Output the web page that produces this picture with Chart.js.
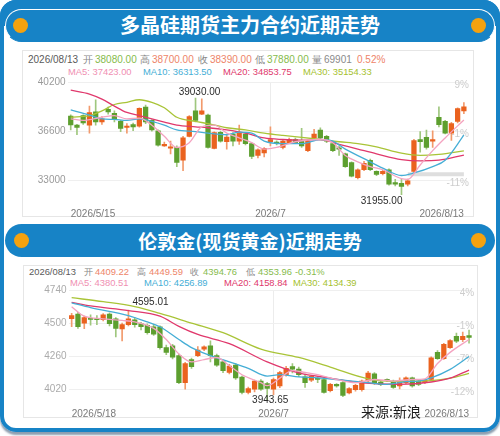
<!DOCTYPE html>
<html>
<head>
<meta charset="utf-8">
<script src="https://cdn.jsdelivr.net/npm/chart.js@4.4.1/dist/chart.umd.min.js"></script>
<style>
  html, body { margin: 0; padding: 0; background: #fff; }
  body { width: 500px; height: 436px; position: relative; overflow: hidden; font-family: "Liberation Sans", Arial, sans-serif; }
  .frame { position: absolute; left: 0; top: 0; width: 500px; height: 432px; box-sizing: border-box;
           border: 4px solid #1783c6; border-radius: 16px; box-shadow: 0 3px 2px rgba(0, 40, 80, 0.45); }
  .strip { position: absolute; left: 0; top: 0; width: 500px; height: 26px; background: #1783c6; border-radius: 16px 16px 0 0; }
  .pill { position: absolute; left: 5px; width: 490px; height: 33px; box-sizing: border-box; background: #1783c6;
          border-radius: 17px; color: #fff; text-align: center; font-family: "Noto Sans CJK SC", sans-serif; font-weight: bold; }
  #pill1 { top: 9px; border: 1.5px solid #fff; border-bottom-color: #1783c6; line-height: 30px; font-size: 20px; }
  #pill2 { top: 224px; line-height: 33px; font-size: 19px; }
  .dot { position: absolute; width: 15px; height: 15px; border-radius: 50%; background: #f5a20f; }
  .panel { position: absolute; border: 1px solid #e6e6e6; box-sizing: border-box; }
  .t { position: absolute; font-size: 10px; line-height: 12px; white-space: nowrap; }
  .s { font-size: 9.4px; }
  .g { color: #8a8a8a; } .d { color: #5a5a5a; } .up { color: #ee8468; } .dn { color: #86bb4c; }
  .m5 { color: #f08fb2; } .m10 { color: #45aed6; } .m20 { color: #e0386c; } .m30 { color: #a5bf2e; }
  .box { position: absolute; left: 0; width: 500px; }
  #src { position: absolute; left: 361px; top: 401px; font-family: "Noto Sans CJK SC", sans-serif; font-size: 14px; color: #1c1c1c; z-index: 5; }
</style>
</head>
<body>
<div class="frame"></div>
<div class="strip"></div>
<div class="pill" id="pill1">多晶硅期货主力合约近期走势</div>
<div class="dot" style="left:13px;top:18px"></div>
<div class="dot" style="left:471px;top:18px"></div>
<div class="pill" id="pill2">伦敦金(现货黄金)近期走势</div>
<div class="dot" style="left:14px;top:233px"></div>
<div class="dot" style="left:471px;top:233px"></div>

<div class="panel" style="left:22px;top:50px;width:452px;height:167px"></div>
<div class="panel" style="left:23px;top:265px;width:455px;height:153px"></div>

<span class="t d" style="left:28px;top:54px">2026/08/13</span>
<span class="t g" style="left:83px;top:54px">开</span>
<span class="t dn" style="left:95px;top:54px">38080.00</span>
<span class="t g" style="left:140px;top:54px">高</span>
<span class="t up" style="left:152px;top:54px">38700.00</span>
<span class="t g" style="left:198px;top:54px">收</span>
<span class="t up" style="left:210px;top:54px">38390.00</span>
<span class="t g" style="left:255px;top:54px">低</span>
<span class="t dn" style="left:267px;top:54px">37880.00</span>
<span class="t g" style="left:312px;top:54px">量</span>
<span class="t g" style="left:324px;top:54px">69901</span>
<span class="t up" style="left:357px;top:54px">0.52%</span>
<span class="t m5 s" style="left:68px;top:66px">MA5: 37423.00</span>
<span class="t m10 s" style="left:143px;top:66px">MA10: 36313.50</span>
<span class="t m20 s" style="left:223px;top:66px">MA20: 34853.75</span>
<span class="t m30 s" style="left:303px;top:66px">MA30: 35154.33</span>

<span class="t d s" style="left:29px;top:266px">2026/08/13</span>
<span class="t g s" style="left:84px;top:266px">开</span>
<span class="t up s" style="left:95px;top:266px">4409.22</span>
<span class="t g s" style="left:137px;top:266px">高</span>
<span class="t up s" style="left:149px;top:266px">4449.59</span>
<span class="t g s" style="left:190px;top:266px">收</span>
<span class="t dn s" style="left:203px;top:266px">4394.76</span>
<span class="t g s" style="left:246px;top:266px">低</span>
<span class="t dn s" style="left:258px;top:266px">4353.96</span>
<span class="t dn s" style="left:295px;top:266px">-0.31%</span>
<span class="t m5 s" style="left:70px;top:277px">MA5: 4380.51</span>
<span class="t m10 s" style="left:144px;top:277px">MA10: 4256.89</span>
<span class="t m20 s" style="left:224px;top:277px">MA20: 4158.84</span>
<span class="t m30 s" style="left:293px;top:277px">MA30: 4134.39</span>

<div class="box" style="top:74px;height:146px"><canvas id="c1"></canvas></div>
<div class="box" style="top:282px;height:136px"><canvas id="c2"></canvas></div>
<div id="src">来源:新浪</div>

<script>
// ---- 多晶硅 (top chart) ----
const open1 = [37700, 37037, 37735, 37037, 38015, 37270, 38202, 37899, 37316, 36874, 37083, 36967, 38365, 37386, 36620, 35522,
  35359, 35406, 34474, 36221, 38085, 37852, 37782, 35336, 36524, 35825, 36385, 35872, 36385, 35685, 34823, 35009,
  35825, 35800, 35406, 35756, 35989, 35872, 35173, 36105, 36688, 36222, 35686, 35360, 34940, 34300, 33193, 33775,
  34474, 33659, 33496, 33775, 32843, 32773, 32726, 33659, 35989, 36152, 35872, 37620, 37317, 36455, 37317, 38080];
const close1 = [37060, 36874, 37200, 37969, 37270, 37503, 38015, 37433, 36804, 36967, 36920, 38271, 37270, 36687, 35569, 35639,
  35406, 34310, 36105, 37666, 37386, 38085, 35406, 36501, 35872, 36174, 35872, 36454, 35685, 34753, 35242, 35336,
  35989, 35710, 35872, 35989, 35756, 35523, 35872, 36385, 36105, 35872, 35173, 35290, 34008, 33309, 33775, 34241,
  33775, 33426, 33659, 32726, 32726, 32563, 32960, 35919, 35825, 35406, 35989, 37084, 36455, 37154, 38248, 38390];
const high1 = [37800, 37100, 37800, 38434, 38900, 37666, 38365, 38085, 37400, 37153, 37200, 38300, 38504, 37450, 36700, 35802,
  35872, 35522, 36221, 37735, 39030, 38970, 37850, 36550, 36600, 36338, 36501, 37037, 36450, 35750, 35300, 35400,
  36920, 35900, 35950, 36100, 36100, 36804, 35950, 36734, 36850, 36300, 35750, 35523, 35000, 34350, 33850, 34400,
  34550, 33700, 33750, 33850, 33076, 33076, 33100, 36000, 36571, 36688, 36618, 38388, 37400, 37250, 38300, 38700];
const low1 = [36700, 36338, 37100, 36454, 37037, 37100, 37852, 37270, 36571, 36454, 36640, 36900, 37153, 36600, 35500, 35475,
  34940, 34008, 33705, 36174, 37270, 37800, 35350, 35300, 35800, 35289, 35522, 35639, 35600, 34590, 34637, 34707,
  35523, 35600, 35300, 35700, 35700, 35406, 35100, 35989, 36050, 35756, 35100, 34824, 33950, 33250, 33100, 33700,
  33700, 33350, 33400, 32650, 32600, 31955, 32600, 33600, 35057, 35290, 35406, 36920, 36400, 35919, 37200, 37880];
// moving averages as [candle index, value]
const ma5Top = [[0, 37503], [2, 37387], [5, 37620], [7, 37736], [9, 37503], [11, 37550], [13, 37037], [15, 36222], [17, 35406],
  [19, 35756], [21, 36920], [23, 37037], [25, 36455], [27, 36105], [29, 35756], [31, 35290], [33, 35406], [36, 35826],
  [40, 35989], [42, 35756], [44, 34824], [46, 34358], [48, 34008], [50, 33775], [53, 33123], [54, 33076], [56, 34125],
  [58, 35173], [60, 36105], [63, 37423]];
const ma10Top = [[0, 38155], [3, 37783], [5, 37503], [7, 37457], [9, 37387], [11, 37503], [13, 37317], [15, 37037], [17, 36688],
  [20, 36571], [22, 36455], [25, 36338], [27, 36525], [29, 36455], [31, 35872], [34, 35686], [37, 35686], [40, 35989],
  [42, 35872], [44, 35290], [47, 34590], [50, 33891], [53, 33356], [55, 33542], [58, 34008], [60, 34474], [63, 36313.5]];
const ma20Top = [[0, 39600], [3, 39320], [5, 38948], [7, 38435], [9, 37969], [11, 37736], [13, 37503], [15, 37270], [17, 37037],
  [20, 36920], [22, 36851], [25, 36688], [28, 36455], [31, 36105], [34, 35989], [37, 35942], [40, 35989], [43, 35639],
  [46, 35290], [49, 34940], [53, 34521], [56, 34428], [59, 34474], [63, 34853.75]];
const ma30Top = [[0, 37620], [3, 37736], [5, 38086], [7, 38552], [9, 38715], [11, 38901], [13, 38715], [15, 38319], [17, 37620],
  [20, 37317], [22, 37154], [25, 36851], [28, 36688], [31, 36455], [34, 36291], [37, 36152], [40, 35989], [43, 35826],
  [46, 35686], [49, 35453], [53, 34987], [56, 34824], [59, 34894], [63, 35154.33]];
const bandTop = [[54, 33450], [63, 33450]];
const yTicks1 = [33000, 36600, 40200];
const pctTicks1 = ['-11%', '-1%', '9%'];
const xTickPos1 = [0, 32, 63];
const xTickText1 = ['2026/5/15', '2026/7', '2026/8/13'];

// ---- 伦敦金 (bottom chart) ----
const open2 = [4531, 4566, 4500, 4535, 4531, 4524, 4566, 4531, 4457, 4489, 4524, 4496, 4484, 4473, 4473, 4322,
  4334, 4264, 4067, 4234, 4264, 4311, 4334, 4264, 4218, 4141, 4195, 4107, 3997, 4020, 4079, 4060,
  4020, 4044, 4125, 4183, 4165, 4109, 4086, 4097, 4090, 4009, 4055, 4067, 3993, 4016, 4016, 4079,
  4132, 4072, 4090, 4079, 4044, 4067, 4102, 4079, 4067, 4090, 4287, 4241, 4322, 4403, 4380, 4409.22];
const close2 = [4554, 4473, 4540, 4526, 4524, 4559, 4496, 4461, 4489, 4531, 4489, 4473, 4431, 4420, 4322, 4287,
  4253, 4067, 4206, 4183, 4304, 4327, 4264, 4195, 4155, 4188, 4102, 3997, 4025, 4079, 4020, 4025,
  4090, 4141, 4171, 4165, 4125, 4067, 4113, 4090, 3997, 4055, 4044, 3974, 4025, 4048, 4079, 4137,
  4062, 4055, 4083, 4032, 4083, 4102, 4044, 4055, 4086, 4248, 4241, 4345, 4373, 4369, 4403, 4394.76];
const high2 = [4570, 4577, 4550, 4559, 4554, 4568, 4575, 4540, 4500, 4595.01, 4540, 4505, 4495, 4490, 4480, 4340,
  4345, 4275, 4215, 4245, 4330, 4335, 4370, 4275, 4230, 4200, 4205, 4115, 4035, 4085, 4090, 4070,
  4100, 4150, 4185, 4206, 4180, 4130, 4120, 4105, 4100, 4062, 4060, 4075, 4032, 4055, 4085, 4150,
  4140, 4080, 4095, 4085, 4102, 4110, 4108, 4085, 4092, 4255, 4300, 4352, 4380, 4427, 4434, 4449.59];
const low2 = [4473, 4461, 4460, 4485, 4489, 4515, 4480, 4400, 4370, 4480, 4470, 4450, 4420, 4410, 4310, 4270,
  4240, 4060, 4020, 4170, 4255, 4300, 4218, 4185, 4140, 4130, 4090, 3985, 3985, 4000, 4010, 3943.65,
  3980, 4030, 4115, 4137, 4110, 4032, 4075, 4067, 3990, 4000, 4035, 3965, 3985, 4005, 4005, 4075,
  4055, 4045, 4075, 4025, 4021, 4060, 4035, 4045, 4060, 4085, 4235, 4235, 4315, 4357, 4364, 4353.96];
const ma5Bot = [[0, 4619], [2, 4550], [5, 4531], [8, 4519], [10, 4508], [13, 4461], [15, 4380], [17, 4276], [19, 4218],
  [21, 4235], [23, 4250], [25, 4190], [27, 4125], [30, 4067], [31, 4045], [33, 4100], [35, 4155], [37, 4141], [39, 4125],
  [42, 4090], [45, 4067], [48, 4090], [51, 4079], [54, 4090], [56, 4095], [58, 4206], [60, 4287], [63, 4380.51]];
const ma10Bot = [[0, 4647], [3, 4612], [9, 4554], [12, 4508], [14, 4473], [17, 4380], [19, 4322], [22, 4264], [25, 4218],
  [28, 4171], [31, 4115], [33, 4125], [36, 4109], [39, 4102], [42, 4090], [47, 4067], [50, 4055], [53, 4074], [55, 4079],
  [57, 4102], [60, 4164], [63, 4256.89]];
const ma20Bot = [[0, 4650], [3, 4624], [9, 4591], [14, 4550], [17, 4476], [20, 4417], [25, 4350], [31, 4218], [36, 4138],
  [41, 4100], [46, 4065], [52, 4055], [57, 4072], [60, 4100], [63, 4158.84]];
const ma30Bot = [[0, 4684], [5, 4655], [10, 4620], [14, 4570], [19, 4500], [24, 4430], [30, 4311], [36, 4250], [41, 4180],
  [47, 4095], [52, 4076], [57, 4082], [60, 4100], [63, 4134.39]];
const yTicks2 = [4020, 4260, 4500, 4740];
const pctTicks2 = ['-12%', '-7%', '-1%', '4%'];
const xTickPos2 = [0, 32, 63];
const xTickText2 = ['2026/5/18', '2026/7', '2026/8/13'];

const UP = '#ea621f', DOWN = '#5d9f2f', UP_WICK = '#f29a6c', DOWN_WICK = '#9fc77e';
const MA_COLORS = ['#f4a3c0', '#45aed6', '#e0386c', '#a9c437'];
const FONT = '"Liberation Sans", Arial, sans-serif';

const hiLoLabels = {
  id: 'hiLoLabels',
  afterDatasetsDraw(chart, args, opts) {
    const { ctx, scales: { x, y } } = chart;
    let hi = 0, lo = 0;
    opts.high.forEach((v, i) => { if (v > opts.high[hi]) hi = i; });
    opts.low.forEach((v, i) => { if (v < opts.low[lo]) lo = i; });
    ctx.save();
    ctx.font = '10px ' + FONT;
    ctx.fillStyle = '#2b2b2b';
    ctx.textBaseline = 'bottom';
    ctx.textAlign = opts.hiAlign;
    ctx.fillText(opts.high[hi].toFixed(2), x.getPixelForValue(hi) + opts.hiDx, y.getPixelForValue(opts.high[hi]) + opts.hiDy);
    ctx.textBaseline = 'middle';
    ctx.textAlign = opts.loAlign;
    ctx.fillText(opts.low[lo].toFixed(2), x.getPixelForValue(lo) + opts.loDx, y.getPixelForValue(opts.low[lo]) + opts.loDy);
    ctx.restore();
  }
};

function buildChart(id, d) {
  const labels = d.open.map((_, i) => i);
  const upDown = d.open.map((o, i) => d.close[i] >= o);
  const maLine = (pts, color) => ({
    type: 'line', data: pts.map(([i, v]) => ({ x: i, y: v })), borderColor: color, borderWidth: 1.3,
    pointRadius: 0, tension: 0.4, cubicInterpolationMode: 'monotone', spanGaps: true, order: 0
  });
  const datasets = [
    maLine(d.ma[0], MA_COLORS[0]), maLine(d.ma[1], MA_COLORS[1]),
    maLine(d.ma[2], MA_COLORS[2]), maLine(d.ma[3], MA_COLORS[3]),
    { type: 'bar', data: d.open.map((o, i) => [o, d.close[i]]), backgroundColor: upDown.map(u => u ? UP : DOWN),
      barThickness: 4.6, minBarLength: 1.2, grouped: false, order: 1 },
    { type: 'bar', data: d.low.map((l, i) => [l, d.high[i]]), backgroundColor: upDown.map(u => u ? UP_WICK : DOWN_WICK),
      barThickness: 1, grouped: false, order: 2 }
  ];
  if (d.band) {
    datasets.push({ type: 'line', data: d.band.map(([i, v]) => ({ x: i, y: v })), borderColor: '#dedede',
      borderWidth: 4, pointRadius: 0, order: 3 });
  }
  const yTickBuild = s => { s.ticks = d.yTicks.map(v => ({ value: v })); };
  return new Chart(document.getElementById(id), {
    type: 'bar',
    data: { labels, datasets },
    plugins: [hiLoLabels],
    options: {
      responsive: true, maintainAspectRatio: false, animation: false,
      layout: { padding: { left: 0, right: d.padRight, top: 6, bottom: 0 } },
      plugins: { legend: { display: false }, tooltip: { enabled: false }, hiLoLabels: d.hiLo },
      scales: {
        x: {
          grid: { offset: false, drawTicks: false, color: c => (c.index === d.xTickPos[1] ? '#ececec' : 'transparent') },
          border: { display: false },
          ticks: {
            autoSkip: false, maxRotation: 0, align: 'inner', padding: d.xPad, color: '#7a7a7a', font: { size: 10, family: FONT },
            callback: (v, i) => { const k = d.xTickPos.indexOf(i); return k >= 0 ? d.xTickText[k] : ''; }
          },
          afterFit: s => { s.height = d.xHeight; }
        },
        y: {
          min: d.min, max: d.max, position: 'left',
          afterBuildTicks: yTickBuild,
          grid: { color: '#efefef', drawTicks: false }, border: { display: false },
          ticks: { padding: 2, color: d.yColor, font: { size: 10, family: FONT }, callback: v => String(v) },
          afterFit: s => { s.width = d.yWidth; }
        },
        y2: {
          min: d.min, max: d.max, position: 'right',
          afterBuildTicks: yTickBuild,
          grid: { display: false, drawTicks: false }, border: { display: false },
          ticks: { mirror: true, padding: 2, labelOffset: 3, color: '#cdcdcd', font: { size: 10, family: FONT },
            callback: v => d.pct[d.yTicks.indexOf(v)] },
          afterFit: s => { s.width = 0; }
        }
      }
    }
  });
}

buildChart('c1', {
  open: open1, close: close1, high: high1, low: low1,
  ma: [ma5Top, ma10Top, ma20Top, ma30Top], band: bandTop,
  yTicks: yTicks1, pct: pctTicks1, xTickPos: xTickPos1, xTickText: xTickText1,
  min: 31400, max: 40200, yWidth: 67.6, padRight: 33, xHeight: 17.8, xPad: 6, yColor: '#9a9a9a',
  hiLo: { high: high1, low: low1, hiAlign: 'center', hiDx: 4, hiDy: -1, loAlign: 'right', loDx: 1, loDy: 7 }
});
buildChart('c2', {
  open: open2, close: close2, high: high2, low: low2,
  ma: [ma5Bot, ma10Bot, ma20Bot, ma30Bot],
  yTicks: yTicks2, pct: pctTicks2, xTickPos: xTickPos2, xTickText: xTickText2,
  min: 3910, max: 4740, yWidth: 68.5, padRight: 27.8, xHeight: 13.7, xPad: 4, yColor: '#ababab',
  hiLo: { high: high2, low: low2, hiAlign: 'left', hiDx: 4, hiDy: -3, loAlign: 'center', loDx: 3, loDy: 1 }
});
</script>
</body>
</html>
